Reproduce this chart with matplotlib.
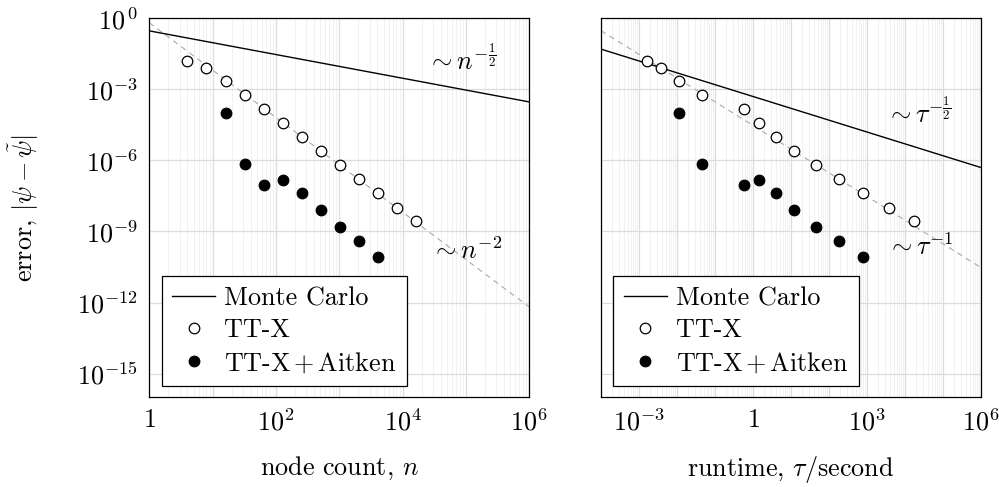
import numpy as np
import matplotlib
matplotlib.use("Agg")
import matplotlib.pyplot as plt
from matplotlib.ticker import FixedLocator, FixedFormatter, NullLocator
from matplotlib.lines import Line2D

plt.rcParams.update({
    "font.family": "serif",
    "font.serif": ["cmr10"],
    "mathtext.fontset": "cm",
    "axes.formatter.use_mathtext": True,
    "font.size": 18.8,
    "axes.unicode_minus": True,
})
FS = 18.8

# ---------------- data ----------------
node_count = [4, 8, 16, 32, 64, 128, 256, 512, 1024, 2048, 4096, 8192, 16384]
err_ttx = [1.58e-2, 7.9e-3, 2.24e-3, 5.75e-4, 1.48e-4, 3.8e-5, 1.02e-5,
           2.57e-6, 6.6e-7, 1.62e-7, 4.07e-8, 1.02e-8, 2.88e-9]
runtime_ttx = [1.58e-3, 3.7e-3, 1.12e-2, 4.5e-2, 0.575, 1.45, 4.1, 12.3,
               44.7, 182, 776, 3715, 17380]

node_count_aitken = [16, 32, 64, 128, 256, 512, 1024, 2048, 4096]
err_aitken = [1.05e-4, 7.2e-7, 9.3e-8, 1.5e-7, 4.1e-8, 8.3e-9, 1.6e-9, 4.1e-10, 8.3e-11]
runtime_aitken = [1.12e-2, 4.5e-2, 0.575, 1.45, 4.1, 12.3, 44.7, 182, 776]

# reference lines (end points)
mc_n = [1, 1e6]
mc_err_n = [0.295, 2.95e-4]
ref_n = [1, 1e6]
ref_err_n = [0.65, 6.5e-13]
mc_tau = [1e-4, 1e6]
mc_err_tau = [5.0e-2, 5.0e-7]
ref_tau = [1e-4, 1e6]
ref_err_tau = [0.30, 3.0e-11]

left_xticks = [1, 1e1, 1e2, 1e3, 1e4, 1e5, 1e6]
left_xlabels = ["$1$", "", "$10^{2}$", "", "$10^{4}$", "", "$10^{6}$"]
right_xticks = [1e-4, 1e-3, 1e-2, 1e-1, 1, 1e1, 1e2, 1e3, 1e4, 1e5, 1e6]
right_xlabels = ["", "$10^{-3}$", "", "", "$1$", "", "", "$10^{3}$", "", "", "$10^{6}$"]
yticks = [1, 1e-3, 1e-6, 1e-9, 1e-12, 1e-15]
ylabels = ["$10^{\\,0}$", "$10^{-3}$", "$10^{-6}$", "$10^{-9}$", "$10^{-12}$", "$10^{-15}$"]

# ---------------- figure ----------------
W, H = 999, 487
fig = plt.figure(figsize=(W / 100, H / 100), dpi=100)
ax_w, ax_h = 380, 379
axL = fig.add_axes([149.3 / W, (H - 397.3) / H, ax_w / W, ax_h / H])
axR = fig.add_axes([601.0 / W, (H - 397.3) / H, ax_w / W, ax_h / H])

major_grid = "#dcdcdc"
minor_grid = "#efefef"
ref_color = "#aaaaaa"


def style(ax, xticks, xlabels, xlim):
    ax.set_xscale("log")
    ax.set_yscale("log")
    ax.set_xlim(*xlim)
    ax.set_ylim(1e-16, 1)
    ax.xaxis.set_major_locator(FixedLocator(xticks))
    ax.xaxis.set_major_formatter(FixedFormatter(xlabels))
    minors = []
    for d in xticks[:-1]:
        minors += [d * k for k in range(2, 10)]
    ax.xaxis.set_minor_locator(FixedLocator(minors))
    ax.yaxis.set_major_locator(FixedLocator(yticks))
    ax.yaxis.set_minor_locator(NullLocator())
    ax.set_axisbelow(True)
    ax.grid(which="major", axis="both", color=major_grid, lw=0.9)
    ax.grid(which="minor", axis="x", color=minor_grid, lw=0.6)
    ax.tick_params(which="both", length=0, pad=8, labelsize=FS)
    for s in ax.spines.values():
        s.set_linewidth(0.9)
        s.set_color("black")


style(axL, left_xticks, left_xlabels, (1, 1e6))
style(axR, right_xticks, right_xlabels, (1e-4, 1e6))
axL.yaxis.set_major_formatter(FixedFormatter(ylabels))
axR.yaxis.set_major_formatter(FixedFormatter([""] * len(yticks)))

mk = dict(linestyle="none", marker="o", markersize=7.6, markeredgewidth=0.9,
          markeredgecolor="black", zorder=4)

# left panel
axL.plot(ref_n, ref_err_n, color=ref_color, lw=0.8, dashes=(5, 4), zorder=2)
axL.plot(mc_n, mc_err_n, color="black", lw=1.0, zorder=3)
axL.plot(node_count, err_ttx, markerfacecolor="white", **mk)
axL.plot(node_count_aitken, err_aitken, markerfacecolor="black", **mk)

# right panel
axR.plot(ref_tau, ref_err_tau, color=ref_color, lw=0.8, dashes=(5, 4), zorder=2)
axR.plot(mc_tau, mc_err_tau, color="black", lw=1.0, zorder=3)
axR.plot(runtime_ttx, err_ttx, markerfacecolor="white", **mk)
axR.plot(runtime_aitken, err_aitken, markerfacecolor="black", **mk)

# annotations
axL.text(2.4e4, 10 ** -2.19, r"$\sim n^{-\frac{1}{2}}$", ha="left", va="baseline", fontsize=FS)
axL.text(2.8e4, 10 ** -10.18, r"$\sim n^{-2}$", ha="left", va="baseline", fontsize=FS)
axR.text(10 ** 3.50, 10 ** -4.43, r"$\sim \tau^{-\frac{1}{2}}$", ha="left", va="baseline", fontsize=FS)
axR.text(10 ** 3.53, 10 ** -10.01, r"$\sim \tau^{-1}$", ha="left", va="baseline", fontsize=FS)

# labels
axL.set_ylabel(r"error, $|\psi - \tilde{\psi}|$", fontsize=FS)
axL.yaxis.set_label_coords(-0.285, 0.5)
axL.set_xlabel(r"node count, $n$", fontsize=FS)
axL.xaxis.set_label_coords(0.5, -0.15)
axR.set_xlabel(r"runtime, $\tau$/second", fontsize=FS)
axR.xaxis.set_label_coords(0.5, -0.15)

# legends
handles = [
    Line2D([], [], color="black", lw=1.0),
    Line2D([], [], linestyle="none", marker="o", markersize=7.6, markeredgewidth=0.9,
           markeredgecolor="black", markerfacecolor="white"),
    Line2D([], [], linestyle="none", marker="o", markersize=7.6, markeredgewidth=0.9,
           markeredgecolor="black", markerfacecolor="black"),
]
labels = ["Monte Carlo", "TT-X", r"TT-X$\,$+$\,$Aitken"]
for ax in (axL, axR):
    leg = ax.legend(handles, labels, loc="lower left",
                    bbox_to_anchor=(12.4 / ax_w, 11.3 / ax_h), borderaxespad=0,
                    fancybox=False, framealpha=1, edgecolor="black",
                    fontsize=FS, handlelength=1.65, handletextpad=0.35,
                    borderpad=0.4, labelspacing=0.32, numpoints=1)
    leg.get_frame().set_linewidth(0.9)

fig.savefig("out.png", dpi=100)
